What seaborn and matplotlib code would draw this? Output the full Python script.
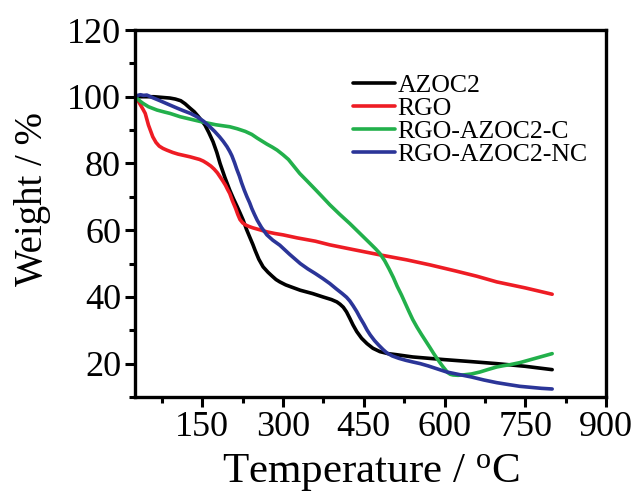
import numpy as np
import pandas as pd
import matplotlib
matplotlib.use("Agg")
import matplotlib.pyplot as plt
import seaborn as sns
from matplotlib.ticker import MultipleLocator

series_names = ["AZOC2", "RGO", "RGO-AZOC2-C", "RGO-AZOC2-NC"]
series_colors = ["#000000", "#ee1c24", "#22b04b", "#2b3598"]

azoc2_t = [25, 45, 60, 75, 90, 100, 110, 118, 127, 135, 142, 148, 155, 162, 170, 177, 183, 192, 201, 208, 215, 220, 226, 232, 239, 244, 248, 255, 263, 272, 280, 287, 294, 305, 315, 332, 355, 374, 390, 400, 406, 412, 418, 424, 430, 437, 446, 456, 467, 480, 495, 510, 541, 600, 650, 697, 750, 800]
azoc2_w = [100, 100, 100, 99.8, 99.6, 99.3, 98.8, 97.9, 96.6, 95.5, 94.2, 93, 91.5, 89.3, 86.5, 83.3, 80, 75.8, 72, 69.4, 67, 65.2, 63, 60.3, 57.6, 55.7, 54, 51.3, 49, 47.4, 46.2, 45.2, 44.5, 43.6, 43, 42, 41, 40, 39.2, 38.5, 37.8, 36.9, 35.5, 33.6, 31.6, 29.6, 27.6, 26, 24.6, 23.6, 23, 22.7, 22, 21.2, 20.6, 20, 19.2, 18.2]

rgo_t = [25, 30, 35, 40, 44, 50, 58, 64, 70, 77, 84, 95, 105, 116, 127, 136, 145, 152, 159, 166, 172, 178, 183, 188, 193, 197, 201, 206, 212, 216, 220, 225, 230, 237, 244, 255, 270, 285, 300, 326, 360, 387, 430, 480, 530, 573, 620, 660, 697, 750, 800]
rgo_w = [100, 99, 97.6, 96.2, 95, 91.5, 88, 86.3, 85.2, 84.5, 84, 83.3, 82.8, 82.4, 82, 81.6, 81.2, 80.7, 80, 79.2, 78.3, 77.2, 76, 74.8, 73.5, 72.2, 71, 68.8, 66.5, 64.7, 63.2, 62.2, 61.6, 61.1, 60.7, 60.2, 59.5, 59, 58.6, 57.7, 56.7, 55.6, 54.2, 52.6, 51.1, 49.6, 47.8, 46.2, 44.5, 42.7, 40.8]

rgoc_t = [25, 30, 35, 40, 50, 66, 80, 90, 109, 130, 151, 175, 201, 215, 230, 242, 252, 262, 270, 280, 289, 300, 310, 320, 331, 345, 360, 373, 387, 405, 424, 443, 462, 472, 480, 489, 497, 505, 512, 520, 527, 534, 541, 549, 557, 565, 573, 580, 585, 592, 597, 602, 606, 611, 616, 625, 634, 650, 666, 680, 697, 710, 722, 740, 760, 780, 800]
rgoc_w = [100, 99.3, 98.6, 98, 97, 96, 95.4, 95, 94, 93.2, 92.4, 91.6, 91, 90.4, 89.6, 88.7, 87.6, 86.6, 85.8, 84.9, 84, 82.6, 81.2, 79.2, 77, 74.7, 72.2, 70, 67.6, 64.8, 62, 59, 56, 54.4, 53, 50.8, 48.4, 45.8, 43.2, 40.6, 38.1, 35.6, 33.2, 30.9, 28.8, 26.8, 24.8, 23, 21.8, 20.2, 19.1, 18.1, 17.3, 16.8, 16.6, 16.5, 16.6, 16.9, 17.5, 18.2, 19, 19.4, 19.7, 20.3, 21.2, 22.1, 23]

rgonc_t = [25, 30, 35, 41, 47, 58, 70, 80, 90, 103, 115, 128, 140, 152, 164, 173, 182, 189, 196, 201, 205, 210, 214, 219, 223, 228, 233, 238, 242, 247, 252, 260, 270, 281, 294, 312, 332, 346, 360, 374, 387, 399, 410, 418, 424, 430, 437, 443, 450, 456, 462, 470, 478, 486, 493, 503, 515, 528, 541, 555, 570, 587, 604, 625, 650, 673, 697, 720, 740, 760, 780, 800]
rgonc_w = [100, 100.4, 100.6, 100.4, 100.5, 99.7, 98.9, 98.2, 97.5, 96.6, 95.8, 95, 94, 92.7, 91, 89.6, 88, 86.6, 85, 83.6, 82.3, 80.2, 78.3, 76.2, 74.2, 72, 70, 68.2, 66.5, 64.7, 63, 60.8, 58.6, 57, 55.5, 52.8, 50, 48.4, 47, 45.5, 44, 42.4, 41, 39.9, 38.8, 37.4, 35.6, 33.8, 31.9, 30.1, 28.6, 26.9, 25.5, 24.2, 23.2, 22.3, 21.6, 21.0, 20.5, 20.0, 19.3, 18.4, 17.5, 16.8, 16.0, 15.1, 14.3, 13.7, 13.2, 12.9, 12.6, 12.4]

ts = [azoc2_t, rgo_t, rgoc_t, rgonc_t]
ws = [azoc2_w, rgo_w, rgoc_w, rgonc_w]
frames = []
for name, t, w in zip(series_names, ts, ws):
    frames.append(pd.DataFrame({"Temperature": t, "Weight": w, "Sample": name}))
df = pd.concat(frames, ignore_index=True)

x_ticks = [150, 300, 450, 600, 750, 900]
y_ticks = [20, 40, 60, 80, 100, 120]

sns.set_theme(style="white")
plt.rcParams["font.family"] = ["Liberation Serif", "DejaVu Serif"]
plt.rcParams["mathtext.fontset"] = "custom"
plt.rcParams["mathtext.rm"] = "Liberation Serif"
plt.rcParams["text.color"] = "black"
plt.rcParams["axes.labelcolor"] = "black"
plt.rcParams["xtick.color"] = "black"
plt.rcParams["ytick.color"] = "black"

fig = plt.figure(figsize=(6.35, 4.99), dpi=100)
ax = fig.add_axes([135/635, 1-397/499, (606-135)/635, (397-30)/499])

sns.lineplot(data=df, x="Temperature", y="Weight", hue="Sample", hue_order=series_names,
             palette=dict(zip(series_names, series_colors)), sort=False, estimator=None,
             linewidth=2.6, ax=ax, legend=True)

ax.set_xlim(25, 900)
ax.set_ylim(10, 120)
ax.set_xticks(x_ticks)
ax.set_yticks(y_ticks)
ax.xaxis.set_minor_locator(MultipleLocator(75))
ax.yaxis.set_minor_locator(MultipleLocator(10))
ax.tick_params(axis="both", which="major", direction="out", length=7, width=2.2,
               labelsize=26, colors="black", pad=3)
ax.tick_params(axis="both", which="minor", direction="out", length=4, width=2.2, colors="black")
ax.tick_params(axis="x", which="both", bottom=True, top=False)
ax.tick_params(axis="y", which="both", left=True, right=False)
for s in ax.spines.values():
    s.set_linewidth(2.4)
    s.set_color("black")

ax.set_xlabel(r"Temperature / $\mathregular{^o}$C", fontsize=31, labelpad=6)
ax.set_ylabel("Weight / %", fontsize=28)
ax.yaxis.set_label_coords(-0.178, 0.54)

handles, labels = ax.get_legend_handles_labels()
leg = ax.legend(handles, labels, loc="upper left", bbox_to_anchor=(353/635, 1-74/499),
                bbox_transform=fig.transFigure, frameon=False, fontsize=18.5,
                handlelength=1.65, handletextpad=0.08, labelspacing=0.0, borderpad=0,
                borderaxespad=0)
for line in leg.get_lines():
    line.set_linewidth(2.6)

fig.savefig("out.png", dpi=100)
